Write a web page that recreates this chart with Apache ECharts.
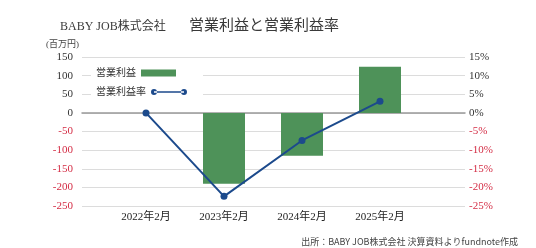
<!DOCTYPE html>
<html><head><meta charset="utf-8">
<script src="https://cdn.jsdelivr.net/npm/echarts@6/dist/echarts.min.js"></script>
<style>html,body{margin:0;padding:0;background:#fff}#c{width:536px;height:248px}</style>
</head><body><div id="c"></div>
<script>
const categories = ['2022年2月', '2023年2月', '2024年2月', '2025年2月'];
const operatingProfit = [0, -190, -115, 124];
const operatingMargin = [0, -22.4, -7.4, 3.1];
const profitName = '営業利益';
const marginName = '営業利益率';
const leftAxis = { min: -250, max: 150, interval: 50 };
const rightAxis = { min: -25, max: 15, interval: 5 };

const SERIF = "'Liberation Serif', 'Noto Sans CJK JP', serif";
const RED = '#d42d45';
const DARK = '#333';
const labelColor = v => (Number(v) < 0 ? RED : DARK);

const chart = echarts.init(document.getElementById('c'), null, { renderer: 'canvas' });
chart.setOption({
  animation: false,
  backgroundColor: '#fff',
  textStyle: { fontFamily: SERIF },
  title: [
    { text: 'BABY JOB株式会社', left: 55, top: 16, textStyle: { fontFamily: SERIF, fontSize: 12, fontWeight: 'normal', color: '#3a3a3a' } },
    { text: '営業利益と営業利益率', left: 184, top: 14, textStyle: { fontFamily: SERIF, fontSize: 15, fontWeight: 'normal', color: '#3a3a3a' } },
    { text: '(百万円)', left: 41, top: 35, textStyle: { fontFamily: SERIF, fontSize: 9, fontWeight: 'normal', color: '#444' } },
    { text: '出所：BABY JOB株式会社 決算資料よりfundnote作成', right: 13, top: 232, textStyle: { fontFamily: "'Noto Sans CJK JP', sans-serif", fontSize: 9, fontWeight: 'normal', color: '#444' } }
  ],
  graphic: [
    { type: 'rect', z: 1, shape: { x: 91, y: 66, width: 112, height: 34 }, style: { fill: '#fff' } }
  ],
  legend: [
    {
      data: [{ name: profitName, icon: 'rect' }],
      left: 96, top: 68, align: 'right', itemWidth: 35, itemHeight: 7, padding: 0,
      textStyle: { fontFamily: SERIF, fontSize: 10, color: '#333' }
    },
    {
      data: [{ name: marginName, icon: 'path://M0,3A3,3 0 1,0 6,3A3,3 0 1,0 0,3ZM30,3A3,3 0 1,0 36,3A3,3 0 1,0 30,3ZM3,2.2L33,2.2L33,3.8L3,3.8Z' }],
      left: 96, top: 87, align: 'right', itemWidth: 36, itemHeight: 6, padding: 0,
      textStyle: { fontFamily: SERIF, fontSize: 10, color: '#333' }
    }
  ],
  grid: [
    { left: 82, right: 71, top: 57, bottom: 42 },
    { left: 107, right: 117, top: 57, bottom: 42 }
  ],
  xAxis: [
    {
      gridIndex: 0, type: 'category', data: categories,
      axisLine: { show: true, onZero: true, lineStyle: { color: '#999', width: 1.5 } },
      axisTick: { show: false }, axisLabel: { show: false }, splitLine: { show: false }
    },
    {
      gridIndex: 1, type: 'category', data: categories,
      axisLine: { show: false }, axisTick: { show: false },
      axisLabel: { margin: 6, fontFamily: SERIF, fontSize: 11, color: '#222' }
    }
  ],
  yAxis: [
    {
      gridIndex: 0, type: 'value', position: 'left', min: leftAxis.min, max: leftAxis.max, interval: leftAxis.interval,
      axisLine: { show: false }, axisTick: { show: false },
      axisLabel: { margin: 9, fontFamily: SERIF, fontSize: 11, color: labelColor },
      splitLine: { show: true, lineStyle: { color: '#dcdcdc', width: 1 } }
    },
    {
      gridIndex: 0, type: 'value', position: 'right', min: rightAxis.min, max: rightAxis.max, interval: rightAxis.interval,
      axisLine: { show: false }, axisTick: { show: false },
      axisLabel: { margin: 4, fontFamily: SERIF, fontSize: 11, formatter: '{value}%', color: labelColor },
      splitLine: { show: false }
    },
    { gridIndex: 1, type: 'value', show: false, min: leftAxis.min, max: leftAxis.max, interval: leftAxis.interval, splitLine: { show: false } },
    { gridIndex: 1, type: 'value', show: false, min: rightAxis.min, max: rightAxis.max, interval: rightAxis.interval, splitLine: { show: false } }
  ],
  series: [
    {
      name: profitName, type: 'bar', xAxisIndex: 1, yAxisIndex: 2, data: operatingProfit,
      barWidth: 42, itemStyle: { color: '#4e9259' }
    },
    {
      name: marginName, type: 'line', xAxisIndex: 1, yAxisIndex: 3, data: operatingMargin,
      symbol: 'circle', symbolSize: 7, z: 5,
      lineStyle: { color: '#1c4a8c', width: 2 }, itemStyle: { color: '#1c4a8c' }
    }
  ]
});
</script></body></html>
